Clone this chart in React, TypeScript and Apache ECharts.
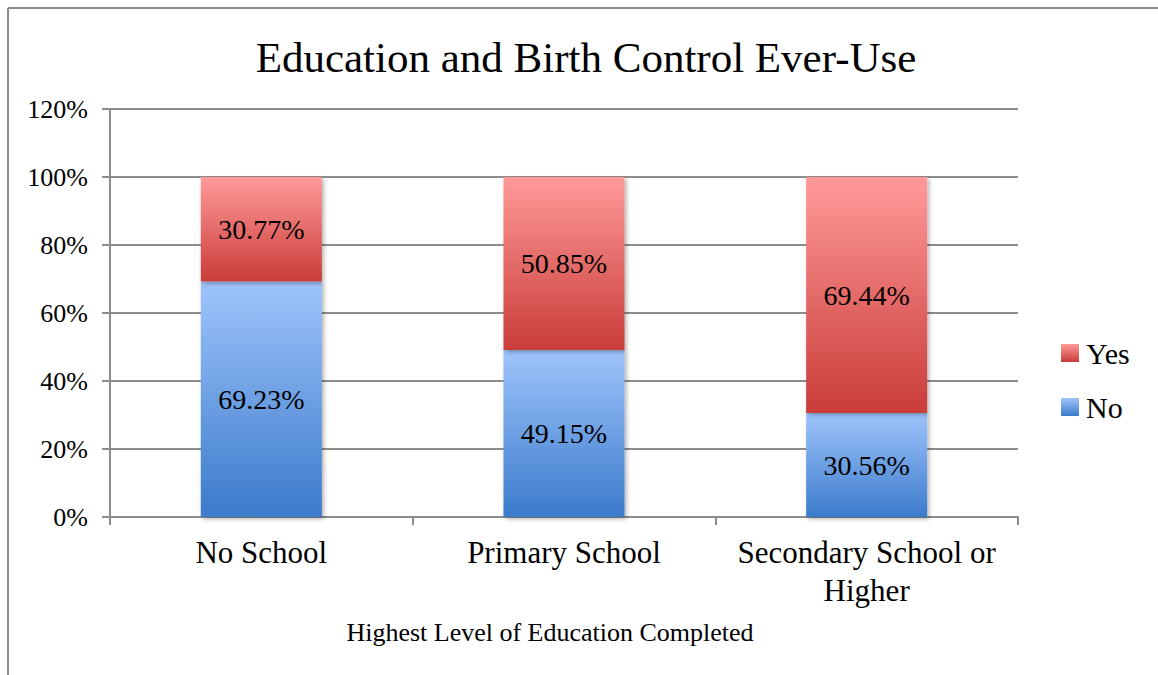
import React, { useEffect, useRef } from "react";
import * as echarts from "echarts";

// Highest level of education completed
const categories = ["No School", "Primary School", "Secondary School or\nHigher"];
// Share of respondents who have never used birth control (%)
const noValues = [69.23, 49.15, 30.56];
// Share of respondents who have ever used birth control (%)
const yesValues = [30.77, 50.85, 69.44];
const legendItems = ["Yes", "No"];
const yTicks = { min: 0, max: 120, interval: 20 };

const SERIF = '"Liberation Serif", "Times New Roman", serif';
const AXIS_GRAY = "#8c8c8c";

const vGrad = (top: string, bottom: string) =>
  new echarts.graphic.LinearGradient(0, 0, 0, 1, [
    { offset: 0, color: top },
    { offset: 1, color: bottom },
  ]);

export default function App() {
  const ref = useRef<HTMLDivElement>(null);

  useEffect(() => {
    if (!ref.current) return;
    const chart = echarts.init(ref.current, undefined, { renderer: "svg" });

    const barStyle = {
      shadowColor: "rgba(0,0,0,0.3)",
      shadowBlur: 4,
      shadowOffsetX: 2,
      shadowOffsetY: 2,
    };
    const barLabel = {
      show: true,
      position: "inside",
      color: "#000",
      fontFamily: SERIF,
      fontSize: 28,
      formatter: (p: any) => `${Number(p.value).toFixed(2)}%`,
    };

    chart.setOption({
      animation: false,
      backgroundColor: "#fff",
      title: {
        text: "Education and Birth Control Ever-Use",
        left: 581,
        textAlign: "center",
        top: 31,
        textStyle: {
          fontFamily: SERIF,
          fontSize: 43,
          fontWeight: "normal",
          color: "#000",
          lineHeight: 43,
        },
      },
      grid: { left: 110, right: 140, top: 109, bottom: 158, containLabel: false },
      legend: {
        data: legendItems,
        orient: "vertical",
        left: 1056,
        top: 333,
        itemWidth: 18,
        itemHeight: 18,
        itemGap: 24,
        icon: "rect",
        itemStyle: { shadowBlur: 0, shadowOffsetX: 0, shadowOffsetY: 0 },
        textStyle: {
          fontFamily: SERIF,
          fontSize: 30,
          lineHeight: 30,
          color: "#000",
          padding: [0, 0, 0, 2],
        },
      },
      xAxis: {
        type: "category",
        data: categories,
        axisLine: { lineStyle: { color: AXIS_GRAY, width: 2 } },
        axisTick: { show: true, length: 8, lineStyle: { color: AXIS_GRAY, width: 2 } },
        axisLabel: {
          color: "#000",
          fontFamily: SERIF,
          fontSize: 31,
          lineHeight: 38,
          margin: 16,
          interval: 0,
        },
      },
      yAxis: {
        type: "value",
        min: yTicks.min,
        max: yTicks.max,
        interval: yTicks.interval,
        axisLine: { show: true, lineStyle: { color: AXIS_GRAY, width: 2 } },
        axisTick: { show: true, length: 8, lineStyle: { color: AXIS_GRAY, width: 2 } },
        splitLine: { show: true, lineStyle: { color: AXIS_GRAY, width: 2 } },
        axisLabel: {
          color: "#000",
          fontFamily: SERIF,
          fontSize: 26,
          margin: 22,
          formatter: (v: number) => `${v}%`,
        },
      },
      series: [
        {
          name: "No",
          type: "bar",
          stack: "total",
          barWidth: "40%",
          data: noValues,
          itemStyle: { color: vGrad("#9fc4fc", "#3b7bcb"), ...barStyle },
          label: barLabel,
        },
        {
          name: "Yes",
          type: "bar",
          stack: "total",
          barWidth: "40%",
          data: yesValues,
          itemStyle: { color: vGrad("#ff9a99", "#c93c39"), ...barStyle },
          label: barLabel,
        },
      ],
      graphic: [
        {
          type: "line",
          shape: { x1: 8, y1: 8, x2: 8, y2: 675 },
          style: { stroke: AXIS_GRAY, lineWidth: 2 },
        },
        {
          type: "line",
          shape: { x1: 8, y1: 8, x2: 1158, y2: 8 },
          style: { stroke: AXIS_GRAY, lineWidth: 2 },
        },
        {
          type: "text",
          x: 550,
          y: 632,
          style: {
            text: "Highest Level of Education Completed",
            fontFamily: SERIF,
            fontSize: 26,
            fill: "#000",
            align: "center",
            verticalAlign: "middle",
          },
        },
      ],
    });

    return () => chart.dispose();
  }, []);

  return (
    <div
      ref={ref}
      style={{ position: "absolute", left: 0, top: 0, width: 1158, height: 675 }}
    />
  );
}
